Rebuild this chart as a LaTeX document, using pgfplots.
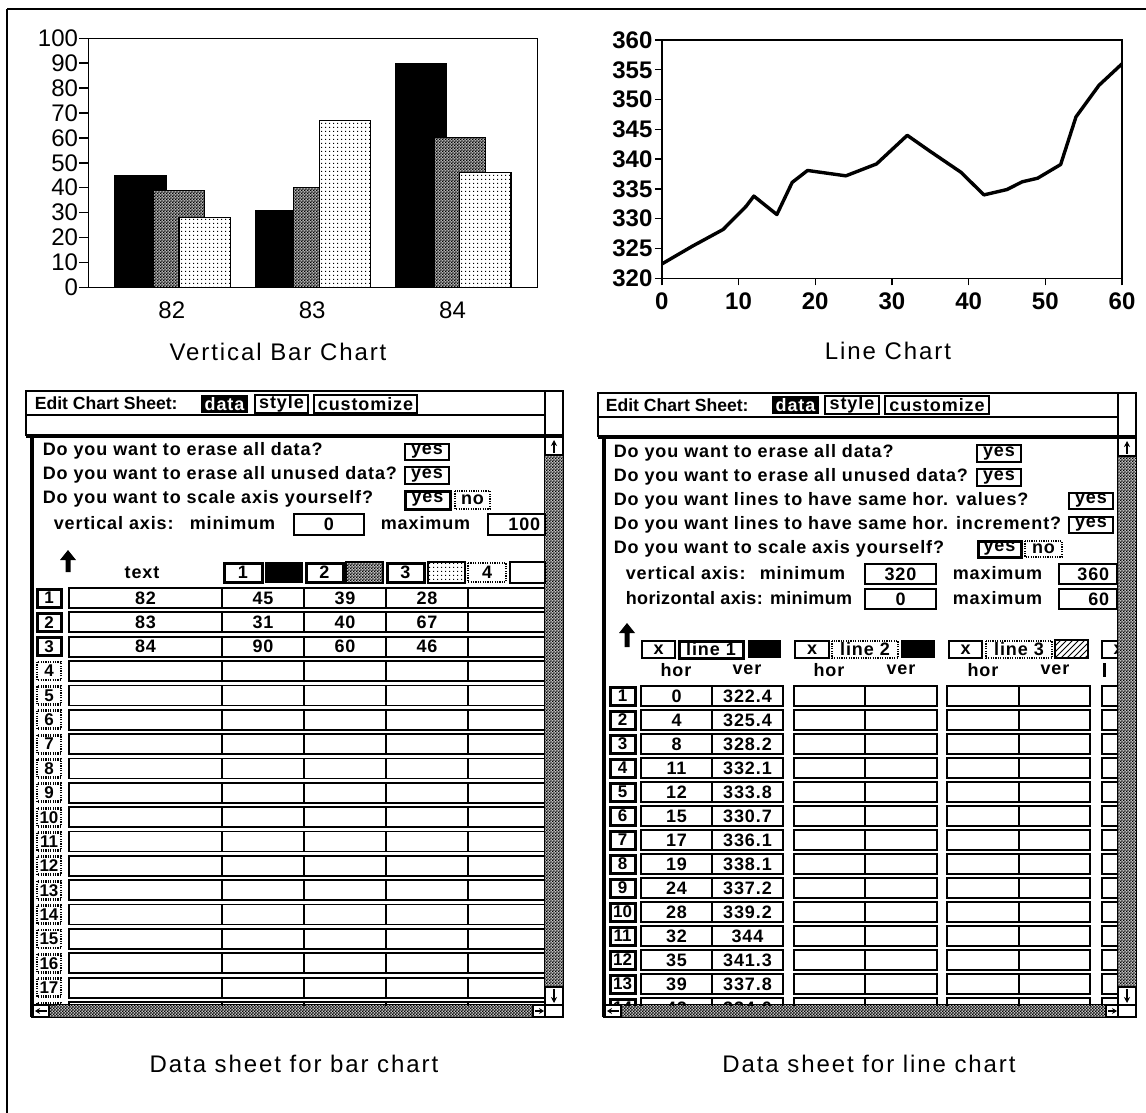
\documentclass[border=0pt]{standalone}
\usepackage{fontspec}
\setmainfont{Liberation Sans}
\newfontfamily\ui{Liberation Sans}[LetterSpace=5]
\newfontfamily\uin{Liberation Sans}[LetterSpace=2]
\newfontfamily\capfont{Liberation Sans}[LetterSpace=8]
\usepackage{pgfplots}
\pgfplotsset{compat=1.18}
\usetikzlibrary{patterns,arrows.meta}

\pgfdeclarepatternformonly{checker}{\pgfqpoint{0pt}{0pt}}{\pgfqpoint{1.4pt}{1.4pt}}{\pgfqpoint{1.4pt}{1.4pt}}{%
  \pgfpathrectangle{\pgfqpoint{0pt}{0pt}}{\pgfqpoint{0.7pt}{0.7pt}}%
  \pgfpathrectangle{\pgfqpoint{0.7pt}{0.7pt}}{\pgfqpoint{0.7pt}{0.7pt}}%
  \pgfusepath{fill}}
\pgfdeclarepatternformonly{finedots}{\pgfqpoint{0pt}{0pt}}{\pgfqpoint{2pt}{2pt}}{\pgfqpoint{2pt}{2pt}}{%
  \pgfpathrectangle{\pgfqpoint{0.7pt}{0.7pt}}{\pgfqpoint{0.55pt}{0.55pt}}%
  \pgfusepath{fill}}

\newcommand\uif{\ui\bfseries\fontsize{9}{11}\selectfont}
\newcommand\ttf{\bfseries\fontsize{8.8}{11}\selectfont}
\newcommand\ybox[5]{\draw[line width=0.8pt] (#1,#2) rectangle (#3,#4); \node at ({(#1+#3)/2},{(#2+#4)/2}) {#5};}
\newcommand\tbox[5]{\draw[line width=1.5pt] (#1,#2) rectangle (#3,#4); \node at ({(#1+#3)/2},{(#2+#4)/2}) {#5};}
\newcommand\dbox[5]{\draw[line width=1.4pt, dash pattern=on 0.6pt off 0.6pt] (#1,#2) rectangle (#3,#4); \node at ({(#1+#3)/2},{(#2+#4)/2}) {#5};}
\newcommand\uparr[3]{\fill (#1-2.5,#3)--(#1-2.5,#2+10)--(#1-8,#2+10)--(#1,#2)--(#1+8,#2+10)--(#1+2.5,#2+10)--(#1+2.5,#3)--cycle;}

\begin{document}
\begin{tikzpicture}
\useasboundingbox (0pt,0pt) rectangle (573pt,-556.5pt);

% ---------------- Bar chart ----------------
\begin{axis}[
  at={(44.2pt,-143.65pt)}, anchor=south west,
  width=224.45pt, height=124.5pt, scale only axis,
  xmin=81.406, xmax=84.604, ymin=0, ymax=100,
  ytick={0,10,...,100}, xtick={82,83,84},
  axis line style={line width=0.75pt},
  ytick pos=left, tick align=outside, major tick length=4.5pt,
  tick style={black, line width=0.7pt},
  xtick style={draw=none},
  /pgf/number format/assume math mode=true,
  yticklabel style={font=\fontsize{12}{14}\selectfont, inner xsep=0.5pt},
  xticklabel style={font=\fontsize{12}{14}\selectfont, yshift=1pt},
]
\addplot[ybar, bar width=0.365, bar shift=-0.223, fill=black, draw=black, line width=0.6pt]
  coordinates {(82,45) (83,31) (84,90)};
\addplot[ybar, bar width=0.365, bar shift=0.052, fill=black!30, draw=black, line width=0.6pt]
  coordinates {(82,39) (83,40) (84,60)};
\addplot[ybar, bar width=0.365, bar shift=0.052, pattern=checker, draw=black, line width=0.6pt]
  coordinates {(82,39) (83,40) (84,60)};
\addplot[ybar, bar width=0.365, bar shift=0.234, fill=white, draw=black, line width=0.6pt]
  coordinates {(82,28) (83,67) (84,46)};
\addplot[ybar, bar width=0.365, bar shift=0.234, pattern=finedots, draw=black, line width=0.6pt]
  coordinates {(82,28) (83,67) (84,46)};
\end{axis}

% ---------------- Line chart ----------------
\begin{axis}[
  at={(330.9pt,-139.15pt)}, anchor=south west,
  width=230.1pt, height=119.15pt, scale only axis,
  xmin=0, xmax=60, ymin=320, ymax=360,
  xtick={0,10,...,60}, ytick={320,325,...,360},
  axis line style={line width=0.75pt},
  xtick pos=bottom, ytick pos=left, tick align=outside, major tick length=3.5pt,
  tick style={black, line width=0.7pt},
  /pgf/number format/assume math mode=true,
  ticklabel style={font=\bfseries\fontsize{12}{14}\selectfont},
  yticklabel style={inner xsep=1pt},
]
\addplot[black, line width=1.7pt, line join=round] coordinates {
  (0,322.4) (4,325.4) (8,328.2) (11,332.1) (12,333.8) (15,330.7) (17,336.1)
  (19,338.1) (24,337.2) (28,339.2) (32,344) (35,341.3) (39,337.8) (42,334.0)
  (45,334.9) (47,336.2) (49,336.8) (52,339.1) (54,347.1) (57,352.4) (60,356.0)};
\end{axis}

\begin{scope}[x=0.5pt, y=-0.5pt]
% outer frame
\draw[line width=1.1pt] (7,9) -- (1146,9);
\draw[line width=1pt] (7,9) -- (7,1113);

% captions
\node[font=\capfont\fontsize{12}{14}\selectfont] at (278,352) {Vertical Bar Chart};
\node[font=\capfont\fontsize{12}{14}\selectfont] at (888,351) {Line Chart};
\node[font=\capfont\fontsize{12}{14}\selectfont] at (294,1064) {Data sheet for bar chart};
\node[font=\capfont\fontsize{12}{14}\selectfont] at (869,1064) {Data sheet for line chart};

% ================= Left data sheet =================
\begin{scope}[font=\uif, inner sep=0pt, line width=0.8pt]
\draw (26,391) rectangle (545,435);
\draw (26,415) -- (545,415);
\draw (545,391) rectangle (563,435);
\draw[line width=1.6pt] (26,436) -- (563,436);
\node[anchor=west, font=\ttf] at (34,403) {Edit Chart Sheet:};
\fill (201,395) rectangle (248,413); \node[white] at (224.5,404) {data};
\ybox{255}{395}{308}{413}{style}
\ybox{314}{395}{417}{413}{customize}
% frame
\draw[line width=2pt] (32,437) -- (32,1017);
\draw (32,1017) -- (563,1017);
\draw (545,437) rectangle (563,1017);
\fill[black!25] (545,455) rectangle (563,987);
\fill[pattern=checker] (545,455) rectangle (563,987);
\draw (545,455)--(563,455) (545,987)--(563,987) (545,1005)--(563,1005);
\draw[line width=1pt,-{Stealth[length=3pt,width=3pt]}] (554,453)--(554,440);
\draw[line width=1pt,-{Stealth[length=3pt,width=3pt]}] (554,989)--(554,1003);
\draw (32,1005) rectangle (545,1017);
\fill[black!25] (49,1005) rectangle (533,1017);
\fill[pattern=checker] (49,1005) rectangle (533,1017);
\draw (49,1005)--(49,1017) (533,1005)--(533,1017);
\draw[line width=0.8pt,-{Stealth[length=2.5pt,width=3pt]}] (47,1011)--(35,1011);
\draw[line width=0.8pt,-{Stealth[length=2.5pt,width=3pt]}] (535,1011)--(544,1011);
% questions
\node[anchor=west] at (42,451) {Do you want to erase all data?};
\ybox{405}{444}{449}{460}{yes}
\node[anchor=west] at (42,475) {Do you want to erase all unused data?};
\ybox{405}{467}{449}{484}{yes}
\node[anchor=west] at (42,499) {Do you want to scale axis yourself?};
\tbox{405}{491}{450}{509}{yes}
\dbox{455}{491}{490}{509}{no}
\node[anchor=west] at (53,523) {vertical axis:};
\node[anchor=west] at (189,523) {minimum};
\ybox{294}{514}{364}{535}{0}
\node[anchor=west] at (380,523) {maximum};
\draw (488,514) rectangle (545,535); \node[anchor=east] at (541,524.5) {100};
% header
\uparr{68}{550}{572}
\node at (142,573) {text};
\tbox{224}{563}{262}{582}{1}
\fill (265,562) rectangle (303,583);
\tbox{306}{563}{343}{582}{2}
\draw[fill=black!25] (346,562) rectangle (383,583);
\fill[pattern=checker] (346,562) rectangle (383,583);
\tbox{387}{563}{424}{582}{3}
\draw[pattern=finedots] (428,562) rectangle (465,583);
\dbox{468}{563}{506}{582}{4}
\draw (510,562) rectangle (545,583);
% rows
\begin{scope}
\clip (33,586) rectangle (545,1005);
\foreach \k in {1,...,18}{
  \pgfmathsetmacro\t{588+(\k-1)*24.35}
  \pgfmathsetmacro\b{\t+20}
  \draw[line width=0.9pt] (69,\t) rectangle (546,\b);
  \foreach \xx in {222,304,386,468} \draw[line width=0.9pt] (\xx,\t) -- (\xx,\b);
  \ifnum\k<4
    \draw[line width=1.5pt] (37,\t+1) rectangle (61,\b-1);
  \else
    \draw[line width=1.4pt, dash pattern=on 0.6pt off 0.6pt] (37,\t+1) rectangle (61,\b-1);
  \fi
  \node[font=\bfseries\fontsize{8.5}{10}\selectfont] at (49,\t+10) {\k};
}
\foreach \k/\a/\p/\q/\r in {1/82/45/39/28, 2/83/31/40/67, 3/84/90/60/46}{
  \pgfmathsetmacro\c{598+(\k-1)*24.35}
  \node at (145.5,\c) {\a};
  \node at (263,\c) {\p};
  \node at (345,\c) {\q};
  \node at (427,\c) {\r};
}
\end{scope}
\end{scope}

% ================= Right data sheet =================
\begin{scope}[font=\uif, inner sep=0pt, line width=0.8pt]
\draw (598,393) rectangle (1118,436);
\draw (598,417) -- (1118,417);
\draw (1118,393) rectangle (1136,436);
\draw[line width=1.6pt] (598,437) -- (1136,437);
\node[anchor=west, font=\ttf] at (605,405) {Edit Chart Sheet:};
\fill (772,396) rectangle (819,414); \node[white] at (795.5,405) {data};
\ybox{825}{396}{879}{414}{style}
\ybox{885}{396}{989}{414}{customize}
% frame
\draw[line width=2pt] (604,438) -- (604,1017);
\draw (604,1017) -- (1136,1017);
\draw (1118,438) rectangle (1136,1017);
\fill[black!25] (1118,456) rectangle (1136,987);
\fill[pattern=checker] (1118,456) rectangle (1136,987);
\draw (1118,456)--(1136,456) (1118,987)--(1136,987) (1118,1005)--(1136,1005);
\draw[line width=1pt,-{Stealth[length=3pt,width=3pt]}] (1127,454)--(1127,441);
\draw[line width=1pt,-{Stealth[length=3pt,width=3pt]}] (1127,989)--(1127,1003);
\draw (604,1005) rectangle (1118,1017);
\fill[black!25] (621,1005) rectangle (1106,1017);
\fill[pattern=checker] (621,1005) rectangle (1106,1017);
\draw (621,1005)--(621,1017) (1106,1005)--(1106,1017);
\draw[line width=0.8pt,-{Stealth[length=2.5pt,width=3pt]}] (619,1011)--(607,1011);
\draw[line width=0.8pt,-{Stealth[length=2.5pt,width=3pt]}] (1108,1011)--(1117,1011);
% questions
\node[anchor=west] at (613,453) {Do you want to erase all data?};
\ybox{977}{445}{1021}{462}{yes}
\node[anchor=west] at (613,477) {Do you want to erase all unused data?};
\ybox{977}{469}{1021}{486}{yes}
\node[anchor=west] at (613,501) {Do you want lines to have same hor. values?};
\ybox{1069}{493}{1113}{509}{yes}
\node[anchor=west] at (613,525) {Do you want lines to have same hor. increment?};
\ybox{1069}{517}{1113}{533}{yes}
\node[anchor=west] at (613,549) {Do you want to scale axis yourself?};
\tbox{978}{541}{1021}{557}{yes}
\dbox{1025}{541}{1062}{557}{no}
\node[anchor=west] at (625,573) {vertical axis:};
\node[anchor=west] at (759,573) {minimum};
\ybox{865}{564}{936}{584}{320}
\node[anchor=west] at (952,573) {maximum};
\draw (1059,564) rectangle (1117,584); \node[anchor=east] at (1110,574) {360};
\node[anchor=west, font=\uin\bfseries\fontsize{9}{11}\selectfont] at (625,598) {horizontal axis: minimum};
\ybox{865}{589}{936}{609}{0}
\node[anchor=west] at (952,598) {maximum};
\draw (1059,589) rectangle (1117,609); \node[anchor=east] at (1110,599) {60};
% header
\uparr{627}{623}{647}
\ybox{642}{641}{675}{658}{x}
\tbox{679}{641}{743}{658}{line 1}
\fill (748,640) rectangle (781,658);
\ybox{795}{641}{829}{658}{x}
\dbox{832}{641}{898}{658}{line 2}
\fill (901,640) rectangle (935,658);
\ybox{949}{641}{982}{658}{x}
\dbox{986}{641}{1052}{658}{line 3}
\draw[pattern=north east lines] (1055,640) rectangle (1088,658);
\begin{scope}
\clip (1100,630) rectangle (1117,700);
\ybox{1102}{641}{1135}{658}{x}
\end{scope}
\node at (676,670) {hor}; \node at (747,670) {ver};
\node at (829,670) {hor}; \node at (901,670) {ver};
\node at (983,670) {hor}; \node at (1055,670) {ver};
\draw[line width=1.5pt] (1104,663) -- (1104,677);
% rows
\begin{scope}
\clip (605,684) rectangle (1118,1005);
\foreach \k in {1,...,14}{
  \pgfmathsetmacro\t{686+(\k-1)*24}
  \pgfmathsetmacro\b{\t+20}
  \draw[line width=0.9pt] (641,\t) rectangle (783,\b);
  \draw[line width=0.9pt] (712,\t) -- (712,\b);
  \draw[line width=0.9pt] (794,\t) rectangle (937,\b);
  \draw[line width=0.9pt] (865,\t) -- (865,\b);
  \draw[line width=0.9pt] (947,\t) rectangle (1090,\b);
  \draw[line width=0.9pt] (1019,\t) -- (1019,\b);
  \draw[line width=0.9pt] (1102,\t) rectangle (1140,\b);
  \draw[line width=1.5pt] (610,\t+1) rectangle (635,\b-1);
  \node[font=\bfseries\fontsize{8.5}{10}\selectfont] at (622.5,\t+10) {\k};
}
\foreach \k/\h/\v in {1/0/322.4, 2/4/325.4, 3/8/328.2, 4/11/332.1, 5/12/333.8,
  6/15/330.7, 7/17/336.1, 8/19/338.1, 9/24/337.2, 10/28/339.2, 11/32/344,
  12/35/341.3, 13/39/337.8, 14/42/334.0}{
  \pgfmathsetmacro\c{696+(\k-1)*24}
  \node at (676.5,\c) {\h};
  \node at (747.5,\c) {\v};
}
\end{scope}
\end{scope}
\end{scope}
\end{tikzpicture}
\end{document}
